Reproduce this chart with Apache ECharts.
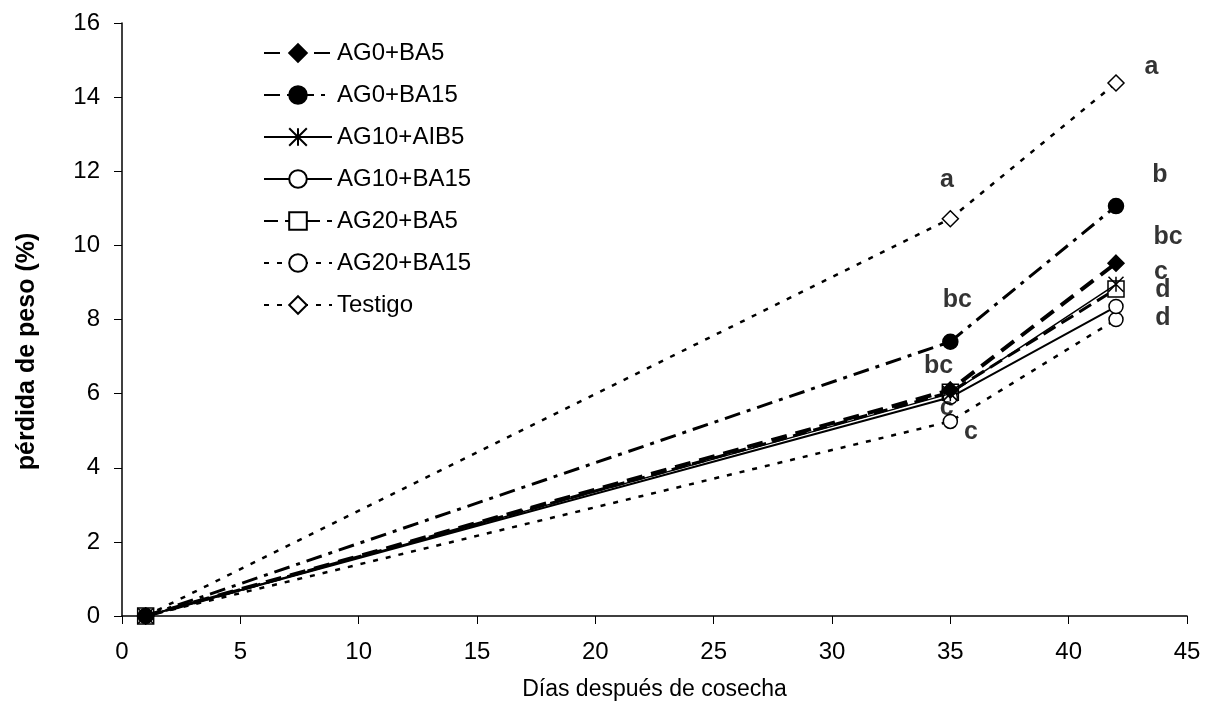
<!DOCTYPE html>
<html>
<head>
<meta charset="utf-8">
<script src="https://cdn.jsdelivr.net/npm/echarts@6/dist/echarts.min.js"></script>
<style>html,body{margin:0;padding:0;background:#fff}#c{width:1205px;height:702px}</style>
</head>
<body>
<div id="c"></div>
<script>
const days = [1, 35, 42];
const seriesNames = ['AG0+BA5','AG0+BA15','AG10+AIB5','AG10+BA15','AG20+BA5','AG20+BA15','Testigo'];
const AG0_BA5   = [0, 6.1, 9.52];
const AG0_BA15  = [0, 7.4, 11.06];
const AG10_AIB5 = [0, 6.0, 8.95];
const AG10_BA15 = [0, 5.9, 8.35];
const AG20_BA5  = [0, 6.04, 8.82];
const AG20_BA15 = [0, 5.25, 8.0];
const Testigo   = [0, 10.72, 14.38];
const xTicks = [0,5,10,15,20,25,30,35,40,45];
const yTicks = [0,2,4,6,8,10,12,14,16];
// significance letters: [x, y, text]
const letters = [
  [34.86, 11.76, 'a'], [35.3, 8.53, 'bc'], [34.5, 6.75, 'bc'], [34.85, 5.61, 'c'], [35.87, 4.96, 'c'],
  [43.5, 14.81, 'a'], [43.85, 11.9, 'b'], [44.2, 10.23, 'bc'], [43.9, 9.28, 'c'], [43.98, 8.8, 'd'], [43.98, 8.04, 'd']
];

const FONT = 'Liberation Sans, Arial, sans-serif';
const asterisk = 'path://M0,0L10,10M10,0L0,10M5,0L5,10';
const styles = [
  {sym:'diamond', size:16, fill:'#000', width:4, type:[16,9]},
  {sym:'circle', size:15, fill:'#000', width:3, type:[16,7,4,7]},
  {sym:asterisk, size:15, fill:'none', width:1.5, type:'solid'},
  {sym:'circle', size:14, fill:'#fff', width:2, type:'solid'},
  {sym:'rect', size:16, fill:'#fff', width:3, type:[14,7]},
  {sym:'circle', size:14, fill:'#fff', width:2.5, type:[5,8]},
  {sym:'diamond', size:16, fill:'#fff', width:2.5, type:[5,8]}
];
const values = [AG0_BA5, AG0_BA15, AG10_AIB5, AG10_BA15, AG20_BA5, AG20_BA15, Testigo];

const series = seriesNames.map((n, i) => ({
  name: n,
  type: 'line',
  data: days.map((d, j) => [d, values[i][j]]),
  symbol: styles[i].sym,
  symbolSize: styles[i].size,
  showAllSymbol: true,
  lineStyle: {color:'#000', width: styles[i].width, type: styles[i].type},
  itemStyle: {color: styles[i].fill, borderColor:'#000', borderWidth: 1.5},
  emphasis: {disabled:true},
  z: 10 - i,
  animation: false
}));
series.push({
  name: 'letters',
  type: 'scatter',
  data: letters.map(l => ({value:[l[0], l[1]], label:{formatter:l[2]}})),
  symbolSize: 0,
  label: {show:true, position:'inside', color:'#000', fontFamily:FONT, fontWeight:'bold', fontSize:25},
  silent: true,
  animation: false,
  z: 20
});

const chart = echarts.init(document.getElementById('c'));
chart.setOption({
  backgroundColor:'#fff',
  animation:false,
  grid:{left:122, right:18, top:23, bottom:86, containLabel:false, outerBoundsMode:'none'},
  legend:{
    data: seriesNames,
    orient:'vertical',
    left:258, top:36,
    itemWidth:68, itemHeight:22,
    itemGap:18,
    textStyle:{fontFamily:FONT, fontSize:24, color:'#000'},
    selectedMode:false
  },
  xAxis:{
    type:'value', min:0, max:45, interval:5,
    name:'Días después de cosecha', nameLocation:'middle', nameGap:62,
    nameTextStyle:{fontFamily:FONT, fontSize:23, color:'#000'},
    axisLine:{lineStyle:{color:'#000', width:1.5}},
    axisTick:{inside:false, length:8, lineStyle:{color:'#000'}},
    axisLabel:{fontFamily:FONT, fontSize:24, color:'#000', margin:24},
    splitLine:{show:false}
  },
  yAxis:{
    type:'value', min:0, max:16, interval:2,
    name:'pérdida de peso (%)', nameLocation:'middle', nameGap:82,
    nameTextStyle:{fontFamily:FONT, fontSize:25, fontWeight:'bold', color:'#000', padding:[0, 64, 0, 0]},
    axisLine:{show:true, lineStyle:{color:'#000', width:1.5}},
    axisTick:{show:true, inside:false, length:8, lineStyle:{color:'#000'}},
    axisLabel:{fontFamily:FONT, fontSize:24, color:'#000', margin:22},
    splitLine:{show:false}
  },
  series: series
});
</script>
</body>
</html>
